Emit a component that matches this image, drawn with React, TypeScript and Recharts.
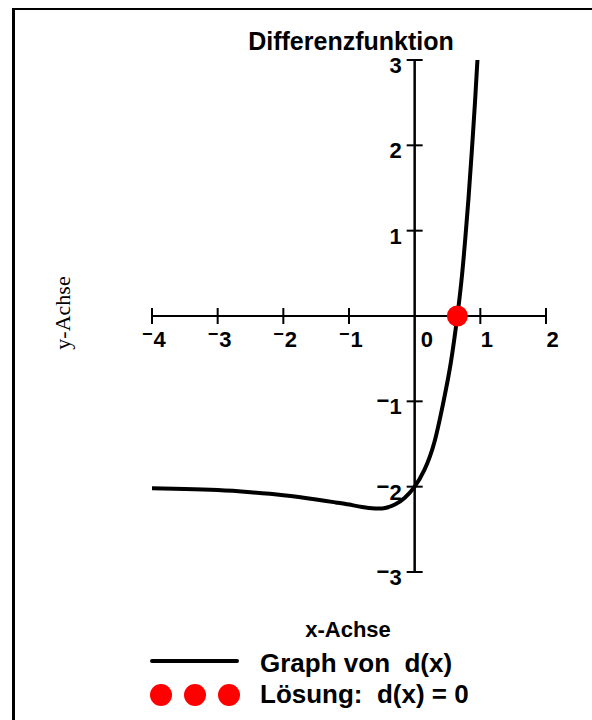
import React from 'react';
import { LineChart, Line, XAxis, YAxis, ReferenceLine, ReferenceDot } from 'recharts';

// d(x) sampled along the curve
const xValues = [-4, -3.5, -3, -2.5, -2, -1.5, -1.2, -1, -0.8, -0.6, -0.45, -0.3, -0.15, 0, 0.15, 0.3, 0.44, 0.55, 0.65, 0.72, 0.77, 0.82, 0.87, 0.92, 0.956];
const dValues = [-2.02, -2.027, -2.04, -2.065, -2.1, -2.15, -2.185, -2.21, -2.238, -2.255, -2.25, -2.21, -2.13, -2.0, -1.8, -1.48, -1.0, -0.55, 0, 0.47, 0.9, 1.38, 1.93, 2.52, 3.0];

// zero of d(x)
const rootX = 0.65;

const xTicks = [-4, -3, -2, -1, 0, 1, 2];
const yTicks = [-3, -2, -1, 1, 2, 3];

const data = xValues.map((x, i) => ({ x, y: dValues[i] }));

const SANS = '"Liberation Sans", Arial, sans-serif';
const SERIF = '"Liberation Serif", "Times New Roman", serif';

const XTickMark = ({ cx, cy, value }: any) => {
  const neg = value < 0;
  const labelX = value === 0 ? cx + 6 : neg ? cx - 10 : cx + 0.5;
  return (
    <g>
      {value !== 0 && <line x1={cx} x2={cx} y1={cy - 8} y2={cy + 8} stroke="#000" strokeWidth={2} />}
      <text x={labelX} y={cy + 31} textAnchor="start" fontFamily={SANS} fontWeight="bold" fontSize={22} fill="#000">
        {neg ? (
          <>
            <tspan fontSize={18} dy={-7}>−</tspan>
            <tspan dy={7} dx={1}>{Math.abs(value)}</tspan>
          </>
        ) : (
          value
        )}
      </text>
    </g>
  );
};

const YTickMark = ({ cx, cy, value }: any) => {
  const neg = value < 0;
  return (
    <g>
      <line x1={cx - 8} x2={cx + 8} y1={cy} y2={cy} stroke="#000" strokeWidth={2} />
      <text x={cx - 13} y={cy + 13} textAnchor="end" fontFamily={SANS} fontWeight="bold" fontSize={22} fill="#000">
        {neg ? (
          <>
            <tspan dy={-6}>−</tspan>
            <tspan dy={6}>{Math.abs(value)}</tspan>
          </>
        ) : (
          value
        )}
      </text>
    </g>
  );
};

const Labels = () => (
  <svg width={592} height={720} style={{ position: 'absolute', left: 0, top: 0, pointerEvents: 'none' }}>
    <text x={351} y={50} textAnchor="middle" fontFamily={SANS} fontWeight="bold" fontSize={25}>
      Differenzfunktion
    </text>
    <text
      x={62}
      y={313}
      transform="rotate(-90 62 313)"
      textAnchor="middle"
      dominantBaseline="central"
      fontFamily={SERIF}
      fontSize={22}
    >
      y-Achse
    </text>
    <text x={348} y={637} textAnchor="middle" fontFamily={SANS} fontWeight="bold" fontSize={22}>
      x-Achse
    </text>
    <line x1={152} x2={237} y1={661} y2={661} stroke="#000" strokeWidth={4} strokeLinecap="round" />
    <text x={260} y={672} fontFamily={SANS} fontWeight="bold" fontSize={26} style={{ whiteSpace: 'pre' }}>
      {'Graph von  d(x)'}
    </text>
    {[161, 195, 229].map((cx) => (
      <circle key={cx} cx={cx} cy={695} r={11} fill="#ff0000" />
    ))}
    <text x={260} y={703} fontFamily={SANS} fontWeight="bold" fontSize={26} style={{ whiteSpace: 'pre' }}>
      {'Lösung:  d(x) = 0'}
    </text>
  </svg>
);

export default function App() {
  return (
    <div style={{ position: 'absolute', left: 0, top: 0, width: 592, height: 720, background: '#fff' }}>
      <div
        style={{
          position: 'absolute',
          left: 12,
          top: 8,
          width: 580,
          height: 712,
          boxSizing: 'border-box',
          borderLeft: '3px solid #000',
          borderTop: '2.5px solid #000',
        }}
      />
      <LineChart width={592} height={720} data={data} margin={{ top: 60, right: 46, bottom: 148, left: 152 }}>
        <XAxis type="number" dataKey="x" domain={[-4, 2]} allowDataOverflow hide />
        <YAxis type="number" domain={[-3, 3]} allowDataOverflow hide />
        <ReferenceLine y={0} stroke="#000" strokeWidth={2} />
        <ReferenceLine x={0} stroke="#000" strokeWidth={2.5} />
        {xTicks.map((t) => (
          <ReferenceDot key={'x' + t} x={t} y={0} r={0} shape={(p: any) => <XTickMark {...p} value={t} />} />
        ))}
        {yTicks.map((t) => (
          <ReferenceDot key={'y' + t} x={0} y={t} r={0} shape={(p: any) => <YTickMark {...p} value={t} />} />
        ))}
        <Line
          type="natural"
          dataKey="y"
          stroke="#000"
          strokeWidth={4}
          dot={false}
          isAnimationActive={false}
        />
        <ReferenceDot x={rootX} y={0} r={10.5} fill="#ff0000" stroke="none" />
      </LineChart>
      <Labels />
    </div>
  );
}
